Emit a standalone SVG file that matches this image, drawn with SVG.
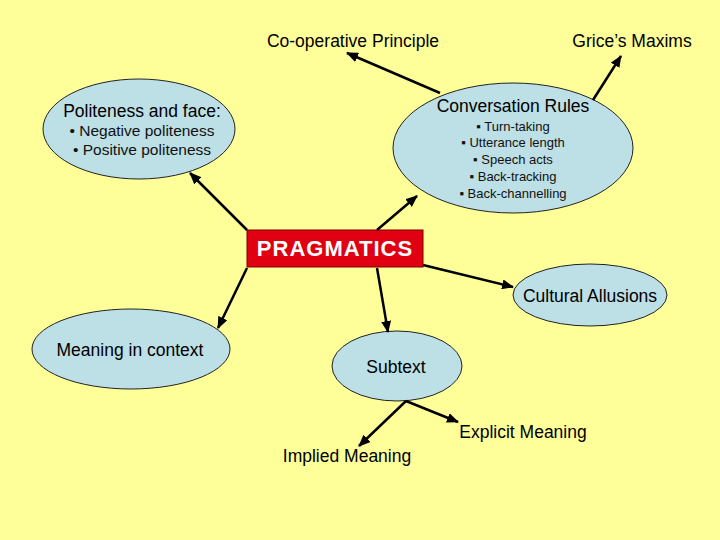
<svg xmlns="http://www.w3.org/2000/svg" width="720" height="540" viewBox="0 0 720 540">
<defs>
<marker id="ah" markerUnits="userSpaceOnUse" markerWidth="12" markerHeight="10" refX="11" refY="5" orient="auto">
<path d="M0,0 L12,5 L0,10 z" fill="#000"/>
</marker>
<style>
.bg{fill:#FFFF99}
.node{fill:#BDDFE6;stroke:#222;stroke-width:1}
.t{font-family:"Liberation Sans",Arial,sans-serif;fill:#000;text-anchor:middle}
.h{font-size:17.5px}
.s{font-size:15.5px;fill:#111}
.b{font-size:13px;fill:#111}
.conn line{stroke:#000;stroke-width:2.5;marker-end:url(#ah)}
</style>
</defs>
<rect class="bg" x="0" y="0" width="720" height="540"/>

<g id="politeness">
<ellipse class="node" cx="139" cy="129" rx="96" ry="50"/>
<text class="t h" x="142" y="117">Politeness and face:</text>
<text class="t s" x="142" y="136">• Negative politeness</text>
<text class="t s" x="142" y="155">• Positive politeness</text>
</g>

<g id="conversation">
<ellipse class="node" cx="513" cy="148" rx="120" ry="65"/>
<text class="t h" x="513" y="112">Conversation Rules</text>
<text class="t b" x="513" y="131">▪ Turn-taking</text>
<text class="t b" x="513" y="147">▪ Utterance length</text>
<text class="t b" x="513" y="164">▪ Speech acts</text>
<text class="t b" x="513" y="181">▪ Back-tracking</text>
<text class="t b" x="513" y="198">▪ Back-channelling</text>
</g>

<g id="cooperative">
<text class="t h" x="353" y="47">Co-operative Principle</text>
</g>

<g id="grice">
<text class="t h" x="632" y="47">Grice’s Maxims</text>
</g>

<g id="pragmatics">
<rect x="247" y="230" width="176" height="37" fill="#E00012" stroke="#7a0000" stroke-width="1"/>
<text x="335" y="256" font-family="Liberation Sans, Arial, sans-serif" font-size="22" font-weight="bold" letter-spacing="1" fill="#fff" text-anchor="middle">PRAGMATICS</text>
</g>

<g id="cultural">
<ellipse class="node" cx="590" cy="295" rx="77" ry="31"/>
<text class="t h" x="590" y="302">Cultural Allusions</text>
</g>

<g id="meaning">
<ellipse class="node" cx="131" cy="349" rx="99" ry="40"/>
<text class="t h" x="130" y="356">Meaning in context</text>
</g>

<g id="subtext">
<ellipse class="node" cx="397" cy="366" rx="65" ry="35"/>
<text class="t h" x="396" y="373">Subtext</text>
</g>

<g id="explicit">
<text class="t h" x="523" y="438">Explicit Meaning</text>
</g>

<g id="implied">
<text class="t h" x="347" y="462">Implied Meaning</text>
</g>

<g id="connectors" class="conn">
<line x1="247" y1="230" x2="190" y2="173"/>
<line x1="377" y1="230" x2="417" y2="196"/>
<line x1="440" y1="93" x2="347" y2="53"/>
<line x1="593" y1="100" x2="621" y2="56"/>
<line x1="423" y1="265" x2="513" y2="287"/>
<line x1="247" y1="268" x2="218" y2="328"/>
<line x1="377" y1="268" x2="388" y2="332"/>
<line x1="406" y1="401" x2="359" y2="446"/>
<line x1="406" y1="401" x2="458" y2="422"/>
</g>
</svg>
